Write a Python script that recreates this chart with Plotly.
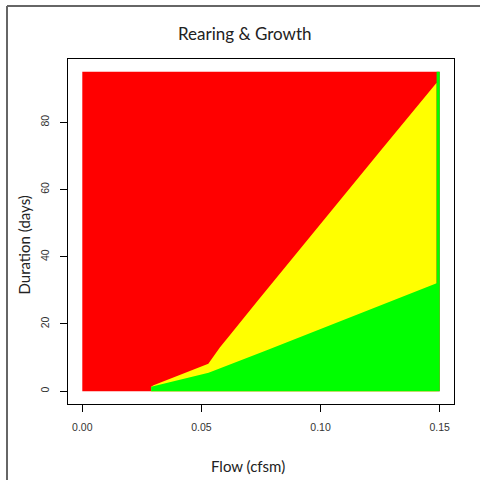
import plotly.graph_objects as go

# ---- data ----
title_text = "Rearing & Growth"
x_label = "Flow (cfsm)"
y_label = "Duration (days)"

x_ticks = [0.0, 0.05, 0.10, 0.15]
x_tick_labels = ["0.00", "0.05", "0.10", "0.15"]
y_ticks = [0, 20, 40, 60, 80]
y_tick_labels = ["0", "20", "40", "60", "80"]

# full domain (red background)
flow_min, flow_max = 0.0, 0.15
dur_min, dur_max = 0.0, 95.0

# upper edge of the yellow zone (yellow / red boundary)
yellow_edge_flow = [0.0289, 0.0299, 0.0529, 0.0578, 0.0620, 0.0737, 0.1255, 0.1487]
yellow_edge_dur = [1.3, 1.8, 8.2, 13.1, 16.7, 27.0, 71.8, 91.7]

# upper edge of the green zone (green / yellow boundary)
green_edge_flow = [0.0289, 0.0530, 0.0774, 0.1487]
green_edge_dur = [1.3, 5.5, 12.2, 32.1]

# last flow column is fully green
green_col_flow = [0.1487, 0.15]

RED, YELLOW, GREEN = "#FF0000", "#FFFF00", "#00FF00"

fig = go.Figure()

# red background
fig.add_trace(go.Scatter(
    x=[flow_min, flow_max, flow_max, flow_min],
    y=[dur_min, dur_min, dur_max, dur_max],
    fill="toself", mode="none", fillcolor=RED, hoverinfo="skip"))

# yellow zone
fig.add_trace(go.Scatter(
    x=yellow_edge_flow + [yellow_edge_flow[-1], yellow_edge_flow[0]],
    y=yellow_edge_dur + [dur_min, dur_min],
    fill="toself", mode="none", fillcolor=YELLOW, hoverinfo="skip"))

# green zone (incl. last column)
fig.add_trace(go.Scatter(
    x=green_edge_flow + [green_col_flow[0], green_col_flow[1], green_col_flow[1], green_edge_flow[0]],
    y=green_edge_dur + [dur_max, dur_max, dur_min, dur_min],
    fill="toself", mode="none", fillcolor=GREEN, hoverinfo="skip"))

L, R, T, B = 68, 26, 59, 76
W = H = 480
pw, ph = W - L - R, H - T - B


def px(xp):
    return (xp - L) / pw


def py(yp):
    return (H - B - yp) / ph


tick_font = dict(family="Liberation Sans, Arial, sans-serif", size=10.5, color="#333")
title_font = dict(family="Lato, Carlito, sans-serif", color="#222")

fig.update_layout(
    width=W, height=H,
    margin=dict(l=L, r=R, t=T, b=B, pad=0),
    paper_bgcolor="white", plot_bgcolor="white",
    showlegend=False,
    xaxis=dict(range=[-0.006, 0.156], tickvals=x_ticks, ticktext=x_tick_labels,
               showgrid=False, zeroline=False, showline=True, mirror=True,
               linecolor="black", linewidth=1, ticks="outside", ticklen=7,
               tickcolor="black", tickwidth=1, tickfont=tick_font,
               ticklabelstandoff=6, fixedrange=True),
    yaxis=dict(range=[-3.8, 98.8], tickvals=y_ticks, ticktext=y_tick_labels,
               showgrid=False, zeroline=False, showline=True, mirror=True,
               linecolor="black", linewidth=1, ticks="outside", ticklen=7,
               tickcolor="black", tickwidth=1, tickfont=tick_font,
               tickangle=-90, ticklabelstandoff=7, fixedrange=True),
    annotations=[
        dict(text=title_text, x=px(245), y=py(34), xref="paper", yref="paper",
             xanchor="center", yanchor="middle", showarrow=False,
             font=dict(size=17, **title_font)),
        dict(text=x_label, x=px(247.5), y=py(466), xref="paper", yref="paper",
             xanchor="center", yanchor="middle", showarrow=False,
             font=dict(size=15, **title_font)),
        dict(text=y_label, x=px(23.5), y=py(245), xref="paper", yref="paper",
             xanchor="center", yanchor="middle", showarrow=False, textangle=-90,
             font=dict(size=15, **title_font)),
    ],
    shapes=[
        dict(type="line", xref="paper", yref="paper",
             x0=px(7), x1=px(7), y0=py(6), y1=py(490),
             line=dict(color="#666", width=2)),
        dict(type="line", xref="paper", yref="paper",
             x0=px(7), x1=px(490), y0=py(6), y1=py(6),
             line=dict(color="#666", width=2)),
    ],
)

fig.write_html(
    "out.html",
    config={"displayModeBar": False, "staticPlot": True},
    post_script="document.body.style.margin='0';document.body.style.overflow='hidden';",
)
